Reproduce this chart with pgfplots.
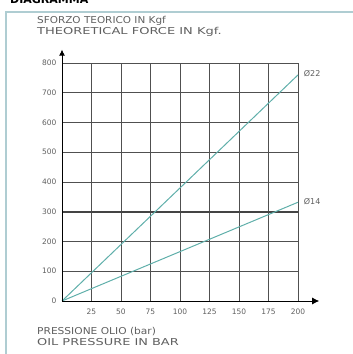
\documentclass[border=0pt]{standalone}
\usepackage{graphicx}
\usepackage{pgfplots}
\pgfplotsset{compat=1.18}
\usetikzlibrary{arrows.meta}
\usepackage{fontspec}
\setmainfont{DejaVu Sans}
\definecolor{framec}{RGB}{175,205,210}
\definecolor{gridc}{RGB}{80,80,80}
\definecolor{curve}{RGB}{95,175,170}
\definecolor{txt}{RGB}{95,95,95}
\begin{document}
\begin{tikzpicture}
\useasboundingbox (0pt,0pt) rectangle (353pt,354pt);
% page frame
\draw[framec, line width=1.2pt] (6pt,0pt) -- (6pt,342pt) -- (353pt,342pt);
\node[anchor=north west, font=\bfseries\fontsize{11}{11}\selectfont, inner sep=0] at (10pt,359pt) {DIAGRAMMA};
% axis captions
\node[anchor=north west, txt, inner sep=0, font=\fontsize{9.5}{9}\selectfont] at (37pt,338pt) {\scalebox{1.1}[1]{SFORZO TEORICO IN Kgf}};
\node[anchor=north west, txt, inner sep=0, font=\fontsize{9.5}{9}\selectfont] at (37pt,327pt) {\scalebox{1.37}[1]{THEORETICAL FORCE IN Kgf.}};
\node[anchor=north west, txt, inner sep=0, font=\fontsize{9.5}{9}\selectfont] at (37pt,27pt) {\scalebox{1.12}[1]{PRESSIONE OLIO (bar)}};
\node[anchor=north west, txt, inner sep=0, font=\fontsize{9.5}{9}\selectfont] at (37pt,16pt) {\scalebox{1.36}[1]{OIL PRESSURE IN BAR}};
\begin{axis}[
  at={(62pt,53pt)}, anchor=origin,
  scale only axis, width=236pt, height=238pt,
  xmin=0, xmax=200, ymin=0, ymax=800,
  xtick={0,25,...,200},
  xticklabels={,25,50,75,100,125,150,175,200},
  ytick={0,100,...,800},
  grid=major,
  grid style={gridc, line width=0.8pt},
  axis line style={draw=none},
  major tick length=0pt,
  /pgf/number format/assume math mode=true,
  tick label style={txt, font=\fontsize{7.5}{8}\selectfont},
  xticklabel style={yshift=-4pt},
  yticklabel style={xshift=-2pt},
  clip=false,
]
\draw[gridc!85!black, line width=1.6pt] (axis cs:0,300) -- (axis cs:200,300);
\addplot[curve, line width=1pt] coordinates {(0,0) (200,760)};
\addplot[curve, line width=1pt] coordinates {(0,0) (200,332)};
\draw[black, line width=0.9pt, -{Latex[length=7pt,width=7pt]}] (axis cs:0,0) -- (axis cs:218,0);
\draw[black, line width=0.9pt, -{Latex[length=6pt,width=6pt]}] (axis cs:0,0) -- (axis cs:0,845);
\node[anchor=west, txt, font=\fontsize{8}{8}\selectfont] at (axis cs:202,765) {Ø22};
\node[anchor=west, txt, font=\fontsize{8}{8}\selectfont] at (axis cs:202,335) {Ø14};
\end{axis}
\end{tikzpicture}
\end{document}
